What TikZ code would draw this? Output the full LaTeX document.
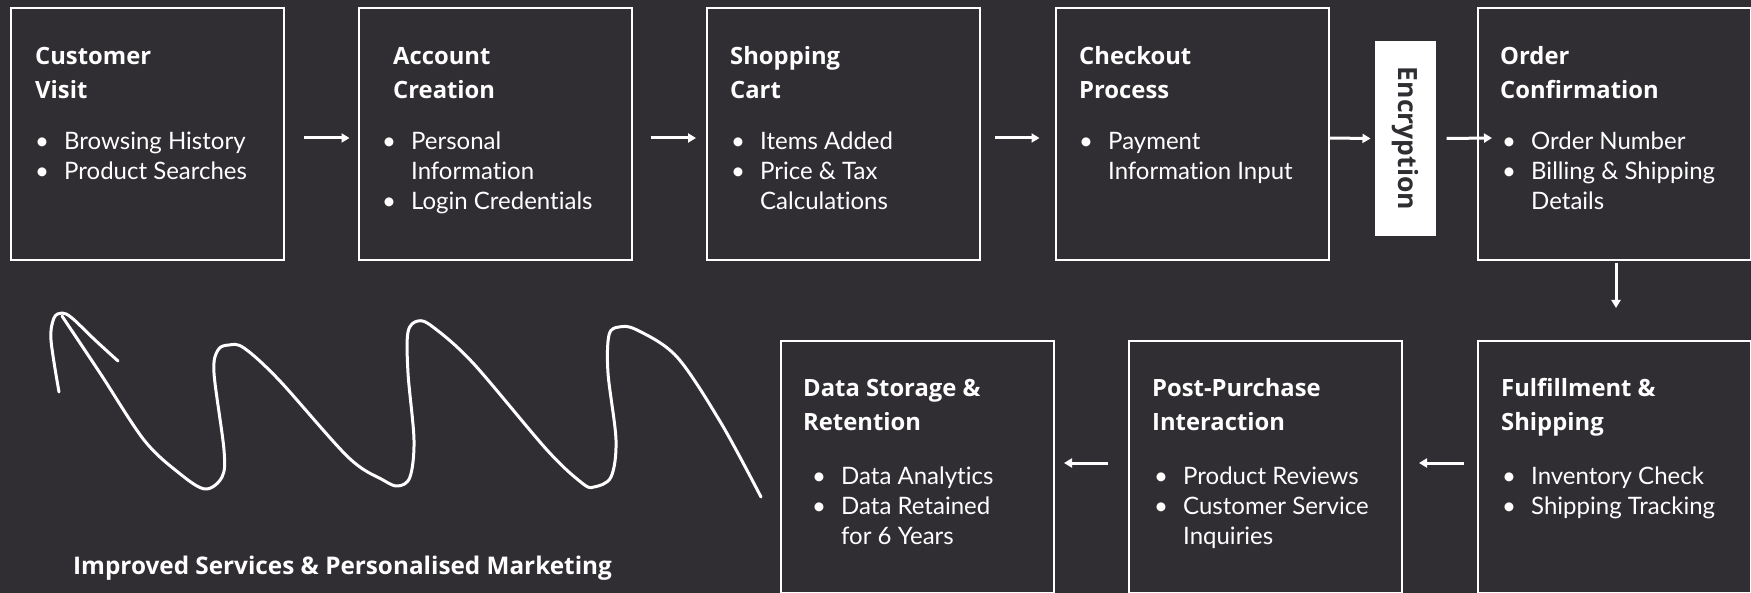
\documentclass[tikz,border=0pt]{standalone}
\usepackage{fontspec}
\setmainfont{Lato}[Ligatures=NoCommon]
\newfontfamily\boldface{Open Sans}[UprightFont=* Bold]
\usetikzlibrary{arrows.meta}

\definecolor{bgdark}{HTML}{302E33}

% bullet and its empty twin for wrapped lines
\newcommand{\bul}{\makebox[29pt][l]{\textbullet}}
\newcommand{\nobul}{\hspace*{29pt}}

\tikzset{
  stage/.style={draw=white, line width=2pt, fill=bgdark, minimum width=273pt,
    minimum height=252pt, inner sep=0pt, outer sep=0pt},
  headline/.style={anchor=base west, inner sep=0pt, text=white,
    font=\boldface\fontsize{23.8}{28}\selectfont},
  itemline/.style={anchor=base west, inner sep=0pt, text=white,
    font=\fontsize{24}{28}\selectfont},
  lockbox/.style={fill=white, minimum width=195pt, minimum height=61pt,
    inner sep=0pt, outer sep=0pt, text=bgdark, rotate=-90,
    font=\boldface\fontsize{26.5}{28}\selectfont},
  flow/.style={white, line width=3pt, -{Triangle[length=8pt,width=9pt]}},
  squiggle/.style={white, line width=3pt, line cap=round, line join=round}
}

\begin{document}
\begin{tikzpicture}[x=1pt,y=-1pt]
  \useasboundingbox (0,0) rectangle (1751,593);
  \fill[bgdark] (0,0) rectangle (1751,593);

  %Boxes
  \node[stage] at (147.5,134)  (visit)    {};
  \node[stage] at (495,134)    (account)  {};
  \node[stage] at (843.5,134)  (cart)     {};
  \node[stage] at (1192,134)   (checkout) {};
  \node[lockbox] at (1405,138.5) (crypt)  {Encryption};
  \node[stage] at (1614.5,134) (confirm)  {};
  \node[stage] at (1614.5,467) (ship)     {};
  \node[stage] at (1265.5,467) (post)     {};
  \node[stage] at (917.5,467)  (storage)  {};

  %Customer visit
  \node[headline] at (35,65)   (visitA) {Customer};
  \node[headline] at (35,99)   (visitB) {Visit};
  \node[itemline] at (35,150)  (visit1) {\bul Browsing History};
  \node[itemline] at (35,180)  (visit2) {\bul Product Searches};

  %Account creation
  \node[headline] at (393,65)  (accountA) {Account};
  \node[headline] at (393,99)  (accountB) {Creation};
  \node[itemline] at (382,150) (account1) {\bul Personal};
  \node[itemline] at (382,180) (account2) {\nobul Information};
  \node[itemline] at (382,210) (account3) {\bul Login Credentials};

  %Shopping cart
  \node[headline] at (730,65)  (cartA) {Shopping};
  \node[headline] at (730,99)  (cartB) {Cart};
  \node[itemline] at (731,150) (cart1) {\bul Items Added};
  \node[itemline] at (731,180) (cart2) {\bul Price \& Tax};
  \node[itemline] at (731,210) (cart3) {\nobul Calculations};

  %Checkout
  \node[headline] at (1079,65)  (checkoutA) {Checkout};
  \node[headline] at (1079,99)  (checkoutB) {Process};
  \node[itemline] at (1079,150) (checkout1) {\bul Payment};
  \node[itemline] at (1079,180) (checkout2) {\nobul Information Input};

  %Order confirmation
  \node[headline] at (1500,65)  (confirmA) {Order};
  \node[headline] at (1500,99)  (confirmB) {Confirmation};
  \node[itemline] at (1502,150) (confirm1) {\bul Order Number};
  \node[itemline] at (1502,180) (confirm2) {\bul Billing \& Shipping};
  \node[itemline] at (1502,210) (confirm3) {\nobul Details};

  %Fulfillment
  \node[headline] at (1501,396) (shipA) {Fulfillment \&};
  \node[headline] at (1501,430) (shipB) {Shipping};
  \node[itemline] at (1502,484) (ship1) {\bul Inventory Check};
  \node[itemline] at (1502,514) (ship2) {\bul Shipping Tracking};

  %Post-purchase
  \node[headline] at (1152,396) (postA) {Post-Purchase};
  \node[headline] at (1152,430) (postB) {Interaction};
  \node[itemline] at (1154,484) (post1) {\bul Product Reviews};
  \node[itemline] at (1154,514) (post2) {\bul Customer Service};
  \node[itemline] at (1154,544) (post3) {\nobul Inquiries};

  %Data storage
  \node[headline] at (803,396) (storageA) {Data Storage \&};
  \node[headline] at (803,430) (storageB) {Retention};
  \node[itemline] at (812,484) (storage1) {\bul Data Analytics};
  \node[itemline] at (812,514) (storage2) {\bul Data Retained};
  \node[itemline] at (812,544) (storage3) {\nobul for 6 Years};

  \node[headline, font=\boldface\fontsize{24.3}{28}\selectfont] at (73,574) (gain)
    {Improved Services \& Personalised Marketing};

  %Arrows
  \draw[flow] ([xshift=20pt,yshift=-4pt]visit.east) -- ([xshift=-9pt,yshift=-4pt]account.west);
  \draw[flow] ([xshift=19pt,yshift=-4pt]account.east) -- ([xshift=-11pt,yshift=-4pt]cart.west);
  \draw[flow] ([xshift=15pt,yshift=-4pt]cart.east) -- ([xshift=-16pt,yshift=-4pt]checkout.west);
  \draw[flow] ([yshift=-4pt]checkout.east) -- ([xshift=-4pt]crypt.south);
  \draw[flow] ([xshift=11pt]crypt.north) -- ([xshift=14pt,yshift=-4pt]confirm.west);
  \draw[flow] ([xshift=1.5pt,yshift=-3pt]confirm.south) -- ([xshift=1.5pt,yshift=33pt]ship.north);
  \draw[flow] ([xshift=-14pt,yshift=4pt]ship.west) -- ([xshift=17pt,yshift=4pt]post.east);
  \draw[flow] ([xshift=-21pt,yshift=4pt]post.west) -- ([xshift=10pt,yshift=4pt]storage.east);

  %Loop back to the label
  \draw[squiggle] plot[smooth, tension=0.55] coordinates {(59,392) (51,340) (54,318) (62,313) (72,318) (95,340) (118,361)};
  \draw[squiggle] plot[smooth, tension=0.55] coordinates {
    (62,316) (100,373) (144,440) (179,473) (205,489) (222,477) (224,450)
    (214,373) (218,350) (229,345) (244,348) (279,380) (348,457) (383,480)
    (398,486) (410,477) (414,440) (408,373) (408,332) (418,321) (433,327)
    (473,363) (547,450) (582,483) (594,487) (611,477) (616,440) (608,373)
    (609,335) (619,327) (637,330) (677,357) (721,423) (761,497)};
\end{tikzpicture}
\end{document}
